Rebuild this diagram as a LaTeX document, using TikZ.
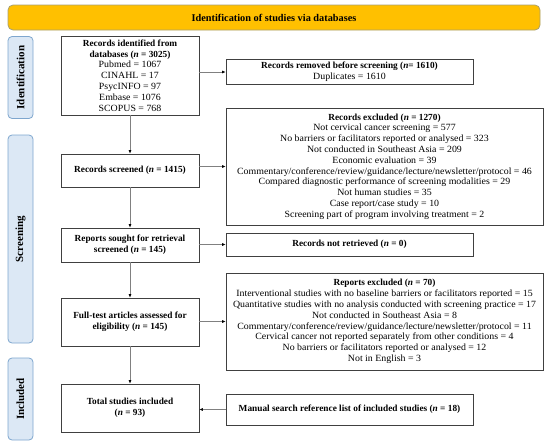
\documentclass[tikz,border=0pt]{standalone}
\usepackage{fontspec}
\setmainfont{Liberation Serif}
\newfontfamily\listfont{Liberation Serif}[FakeStretch=1.04]
\usetikzlibrary{positioning, arrows.meta}

\tikzset{
    box/.style={draw=black!75, line width=0.7pt, align=center, inner sep=1pt,
        font=\fontsize{9.5}{10.8}\selectfont\listfont},
    stagebox/.style={draw=stageline, fill=stagefill, rounded corners=4pt, line width=0.8pt,
        rotate=90, minimum height=25pt, font=\fontsize{11}{12}\selectfont\bfseries},
    flow/.style={draw=black!50, line width=0.6pt, -{Latex[length=3.5pt, width=3pt, color=black]}}
}
\definecolor{bannerfill}{HTML}{FFC000}
\definecolor{bannerline}{HTML}{A8A070}
\definecolor{stagefill}{HTML}{DCE8F5}
\definecolor{stageline}{HTML}{7EA6CE}

\newcommand{\nn}{\textit{n}}
\newcommand{\hd}[1]{{\fontsize{9.3}{10.8}\selectfont\rmfamily\bfseries #1}}

\begin{document}
\begin{tikzpicture}[x=1pt, y=-1pt]
    \useasboundingbox (0,0) rectangle (550,445);

    % Banner on top
    \node[draw=bannerline, fill=bannerfill, rounded corners=5pt, line width=0.8pt,
        minimum width=532pt, minimum height=25pt, font=\fontsize{10.3}{12}\selectfont\bfseries]
        (banner) at (274,17.5) {Identification of studies via databases};

    % Stage labels on the left
    \node[stagebox, minimum width=82pt] (idlab) at (20.5,77.5) {Identification};
    \node[stagebox, minimum width=208pt] (scrlab) at (20.5,239) {Screening};
    \node[stagebox, minimum width=82pt] (inclab) at (20.5,399) {Included};

    % Main column
    \node[box, minimum width=138pt, minimum height=79pt] (ident) at (130,75.5)
        {\hd{Records identified from}\\ \hd{databases (\nn\ = 3025)}\\
         Pubmed = 1067\\ CINAHL = 17\\ PsycINFO = 97\\ Embase = 1076\\ SCOPUS = 768};
    \node[box, minimum width=138pt, minimum height=33pt] (screened) at (130,170.5)
        {\hd{Records screened (\nn\ = 1415)}};
    \node[box, minimum width=138pt, minimum height=34pt] (sought) at (130,245)
        {\hd{Reports sought for retrieval}\\ \hd{screened (\nn\ = 145)}};
    \node[box, minimum width=138pt, minimum height=48pt] (fulltext) at (130,322)
        {\hd{Full-test articles assessed for}\\ \hd{eligibility (\nn\ = 145)}};
    \node[box, minimum width=138pt, minimum height=48pt] (total) at (130,408)
        {\hd{Total studies included}\\ \hd{(\nn\ = 93)}};

    % Side column
    \node[box, minimum width=247pt, minimum height=25pt] (removed) at (349.5,72)
        {\hd{Records removed before screening (\nn= 1610)}\\ Duplicates = 1610};
    \node[box, minimum width=317pt, minimum height=117pt] (excluded) at (384.5,166.5)
        {\hd{Records excluded (\nn\ = 1270)}\\
         Not cervical cancer screening = 577\\
         No barriers or facilitators reported or analysed = 323\\
         Not conducted in Southeast Asia = 209\\
         Economic evaluation = 39\\
         Commentary/conference/review/guidance/lecture/newsletter/protocol = 46\\
         Compared diagnostic performance of screening modalities = 29\\
         Not human studies = 35\\
         Case report/case study = 10\\
         Screening part of program involving treatment = 2};
    \node[box, minimum width=247pt, minimum height=23pt] (notretr) at (349.5,244.5)
        {\hd{Records not retrieved (\nn\ = 0)}};
    \node[box, minimum width=317pt, minimum height=97pt] (repexcl) at (384.5,321.5)
        {\hd{Reports excluded (\nn\ = 70)}\\
         Interventional studies with no baseline barriers or facilitators reported = 15\\
         Quantitative studies with no analysis conducted with screening practice = 17\\
         Not conducted in Southeast Asia = 8\\
         Commentary/conference/review/guidance/lecture/newsletter/protocol = 11\\
         Cervical cancer not reported separately from other conditions = 4\\
         No barriers or facilitators reported or analysed = 12\\
         Not in English = 3};
    \node[box, minimum width=247pt, minimum height=31pt] (manual) at (349.5,409.5)
        {\hd{Manual search reference list of included studies (\nn\ = 18)}};

    % Arrows down the main column
    \draw[flow] (ident) -- (screened);
    \draw[flow] (screened) -- (sought);
    \draw[flow] (sought) -- (fulltext);
    \draw[flow] (fulltext) -- (total);

    % Arrows to the side
    \draw[flow] (ident.east |- removed.west) -- (removed.west);
    \draw[flow] (screened.east |- excluded.west) -- (excluded.west);
    \draw[flow] (sought.east |- notretr.west) -- (notretr.west);
    \draw[flow] (fulltext.east |- repexcl.west) -- (repexcl.west);
    \draw[flow] (manual.west) -- (total.east |- manual.west);
\end{tikzpicture}
\end{document}
